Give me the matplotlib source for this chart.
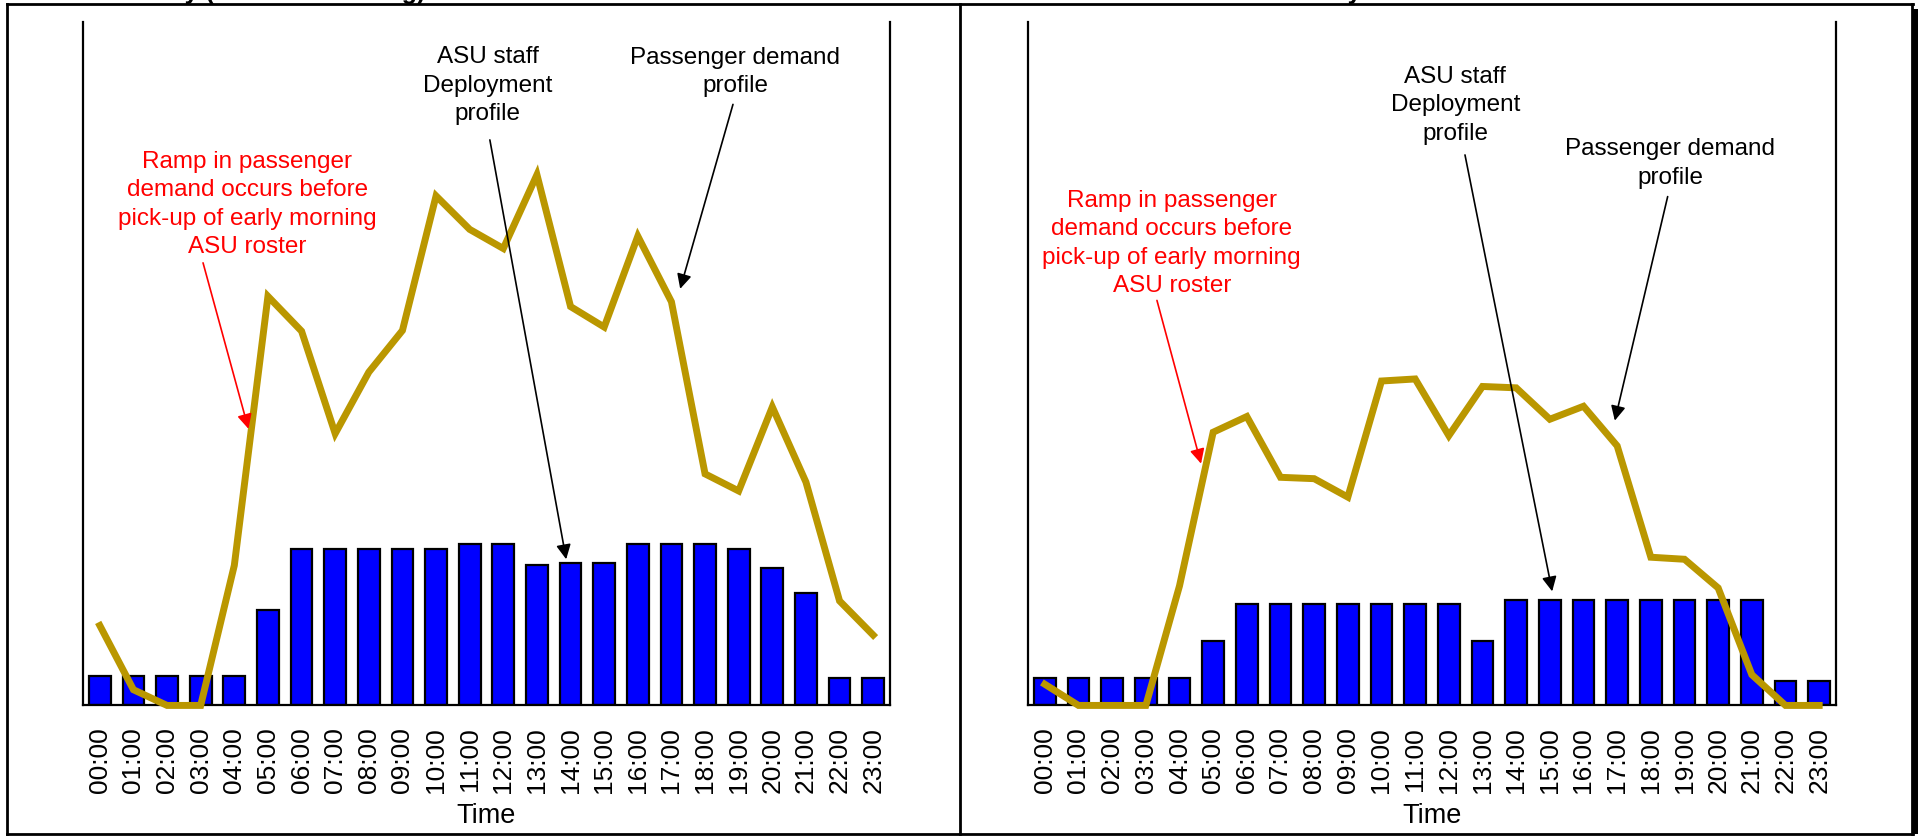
import matplotlib
matplotlib.use("Agg")
import matplotlib.pyplot as plt
from matplotlib.lines import Line2D
from matplotlib.patches import Rectangle

plt.rcParams['font.family'] = ['Liberation Sans', 'DejaVu Sans']

# hour labels on the x axis
hours = ["00:00", "01:00", "02:00", "03:00", "04:00", "05:00", "06:00", "07:00",
         "08:00", "09:00", "10:00", "11:00", "12:00", "13:00", "14:00", "15:00",
         "16:00", "17:00", "18:00", "19:00", "20:00", "21:00", "22:00", "23:00"]

# left panel: ASU staff deployment (bars) and passenger demand (line), % of axis height
staff_left = [4.3, 4.3, 4.3, 4.3, 4.3, 14.0, 22.9, 22.9, 22.9, 22.9, 22.9, 23.6,
              23.6, 20.5, 20.8, 20.8, 23.6, 23.6, 23.6, 22.9, 20.1, 16.5, 4.0, 4.0]
demand_left = [11.7, 2.3, 0, 0, 20.5, 59.9, 54.8, 39.8, 48.8, 54.9, 74.6, 69.7,
               66.9, 77.7, 58.4, 55.4, 68.7, 59.1, 33.9, 31.4, 43.7, 32.7, 15.3, 10.3]

# right panel
staff_right = [4.0, 4.0, 4.0, 4.0, 4.0, 9.4, 14.8, 14.8, 14.8, 14.8, 14.8, 14.8,
               14.8, 9.4, 15.4, 15.4, 15.4, 15.4, 15.4, 15.4, 15.4, 15.4, 3.6, 3.6]
demand_right = [3.1, 0, 0, 0, 17.5, 40.0, 42.3, 33.4, 33.2, 30.5, 47.5, 47.8,
                39.5, 46.7, 46.5, 41.9, 43.8, 38.0, 21.7, 21.4, 17.2, 4.5, 0, 0]

ramp_text = "Ramp in passenger\ndemand occurs before\npick-up of early morning\nASU roster"
staff_text = "ASU staff\nDeployment\nprofile"
demand_text = "Passenger demand\nprofile"

line_color = "#BA9700"
fs = 19


def draw_panel(ax, staff, demand, notes):
    x = range(len(hours))
    ax.bar(x, staff, width=0.65, color="#0000FF", edgecolor="black", linewidth=1.6, zorder=2)
    ax.plot(x, demand, color=line_color, linewidth=5, solid_joinstyle="miter",
            zorder=3, clip_on=False)
    ax.set_xlim(-0.5, 23.5)
    ax.set_ylim(0, 100)
    ax.set_yticks([])
    ax.set_xticks(list(x))
    ax.set_xticklabels(hours, rotation=90, fontsize=fs)
    ax.tick_params(axis="x", length=0, pad=15)
    ax.set_xlabel("Time", fontsize=19.5, labelpad=7)
    ax.spines["top"].set_visible(False)
    for s in ["left", "right", "bottom"]:
        ax.spines[s].set_linewidth(1.6)
    for text, color, txy, start, tip in notes:
        ax.text(txy[0], txy[1], text, color=color, fontsize=17.5, ha="center",
                va="center", linespacing=1.38, zorder=5)
        ax.annotate("", xy=tip, xytext=start,
                    arrowprops=dict(arrowstyle="-|>", color=color, lw=1.2,
                                    mutation_scale=22, shrinkA=0, shrinkB=0),
                    zorder=6, annotation_clip=False)


fig = plt.figure(figsize=(19.21, 8.37), dpi=100)
ax1 = fig.add_axes([83 / 1921, 0.156, 807 / 1921, 0.816])
ax2 = fig.add_axes([1028 / 1921, 0.156, 808 / 1921, 0.816])

draw_panel(ax1, staff_left, demand_left, [
    (ramp_text, "red", (4.39, 73.5), (3.07, 64.8), (4.42, 40.5)),
    (staff_text, "black", (11.53, 90.9), (11.6, 82.8), (13.87, 21.4)),
    (demand_text, "black", (18.9, 92.9), (18.83, 88.0), (17.26, 61.0)),
])
draw_panel(ax2, staff_right, demand_right, [
    (ramp_text, "red", (3.77, 67.8), (3.33, 59.3), (4.64, 35.4)),
    (staff_text, "black", (12.19, 88.0), (12.48, 80.6), (15.07, 16.7)),
    (demand_text, "black", (18.57, 79.5), (18.5, 74.5), (16.93, 41.7)),
])

# table frame around the two panels
W, H = 1921, 837
for (x0, y0, x1, y1) in [(7, 5, 1913, 5), (7, 5, 7, 835), (960, 5, 960, 835),
                         (1912, 5, 1912, 835), (7, 835, 1913, 835)]:
    fig.add_artist(Line2D([x0 / W, x1 / W], [1 - y0 / H, 1 - y1 / H],
                          color="black", linewidth=2))
fig.add_artist(Rectangle((1913 / W, 2 / H), 5 / W, 825 / H, color="black", lw=0))

# titles cut off at the top edge in the source, only descenders remain
fig.text(425 / W, 1 + 1 / H, "Monday (Before Rostering)", fontsize=18,
         fontweight="bold", ha="right", va="baseline")
fig.text(1362 / W, 1 + 1 / H, "Monday", fontsize=18, fontweight="bold",
         ha="right", va="baseline")

fig.savefig("out.png", dpi=100)
